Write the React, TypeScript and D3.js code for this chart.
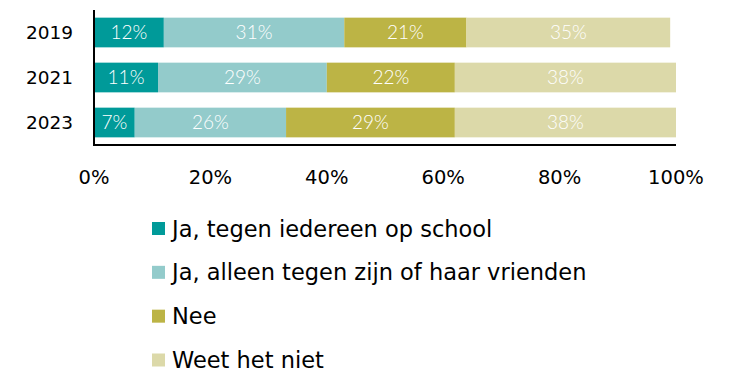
import React from "react";
import * as d3 from "d3";

const years = ["2019", "2021", "2023"];
const categories = [
  "Ja, tegen iedereen op school",
  "Ja, alleen tegen zijn of haar vrienden",
  "Nee",
  "Weet het niet",
];
const iedereen = [12, 11, 7];
const vrienden = [31, 29, 26];
const nee = [21, 22, 29];
const weetNiet = [35, 38, 38];
const tickValues = [0, 20, 40, 60, 80, 100];
const colors = ["#009a99", "#93cbcb", "#bcb445", "#dcd9a9"];

const W = 733;
const H = 373;
const FONT = "'DejaVu Sans', sans-serif";

export default function App() {
  const series = [iedereen, vrienden, nee, weetNiet];
  const rows = years.map((year, i) => {
    const rec: Record<string, number | string> = { year };
    categories.forEach((c, k) => (rec[c] = series[k][i]));
    return rec;
  });
  const stacked = d3.stack<Record<string, number | string>>().keys(categories)(rows as any);

  const x = d3.scaleLinear().domain([0, 100]).range([94, 676]);
  const y = d3.scaleBand().domain(years).range([10, 145]).paddingInner(0.34).paddingOuter(0.17);
  const legendY = d3.scaleLinear().domain([0, 3]).range([236.5, 368]);

  return (
    <svg
      width={W}
      height={H}
      style={{ position: "absolute", left: 0, top: 0, background: "#fff" }}
      fontFamily={FONT}
    >
      {stacked.map((layer, k) => (
        <g key={categories[k]} fill={colors[k]}>
          {layer.map((d, i) => (
            <rect
              key={years[i]}
              x={x(d[0])}
              y={y(years[i])}
              width={x(d[1]) - x(d[0])}
              height={y.bandwidth()}
            />
          ))}
        </g>
      ))}
      {stacked.map((layer, k) => (
        <g key={"lbl" + k}>
          {layer.map((d, i) => (
            <text
              key={years[i]}
              x={(x(d[0]) + x(d[1])) / 2}
              y={(y(years[i]) as number) + y.bandwidth() / 2}
              dy="0.36em"
              textAnchor="middle"
              fill="#fff"
              fontSize={19}
              fontFamily="Lato, sans-serif"
              fontWeight={300}
            >
              {series[k][i]}%
            </text>
          ))}
        </g>
      ))}
      {/* axes */}
      <line x1={94} x2={94} y1={10} y2={146} stroke="#000" strokeWidth={2} />
      <line x1={93} x2={676} y1={145} y2={145} stroke="#000" strokeWidth={2} />
      {years.map((yr) => (
        <text
          key={yr}
          x={73}
          y={(y(yr) as number) + y.bandwidth() / 2}
          dy="0.36em"
          textAnchor="end"
          fontSize={18.5}
          fill="#000"
        >
          {yr}
        </text>
      ))}
      {tickValues.map((t) => (
        <text key={t} x={x(t)} y={177} dy="0.36em" textAnchor="middle" fontSize={19.5} fill="#000">
          {t}%
        </text>
      ))}
      {/* legend */}
      {categories.map((c, k) => (
        <g key={c} transform={`translate(152, ${legendY(k)})`}>
          <rect x={0} y={-14.5} width={13} height={13} fill={colors[k]} />
          <text x={20} y={0} fontSize={22.5} fill="#000">
            {c}
          </text>
        </g>
      ))}
    </svg>
  );
}
